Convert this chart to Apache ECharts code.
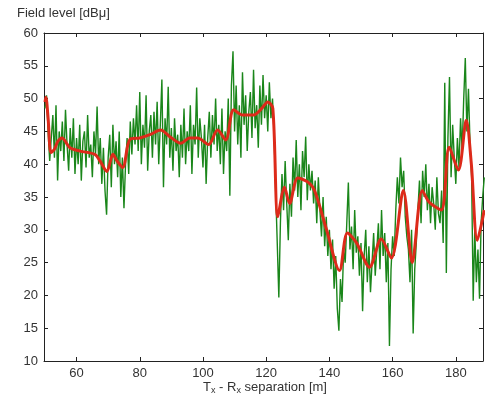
<!DOCTYPE html>
<html>
<head>
<meta charset="utf-8">
<script src="https://cdn.jsdelivr.net/npm/echarts@6/dist/echarts.min.js"></script>
<style>html,body{margin:0;padding:0;background:#fff}#c{width:486px;height:396px}</style>
</head>
<body>
<div id="c"></div>
<script>
// Measured field level (green), 0.5 m steps starting at 50 m
const measStart = 50;
const measStep = 0.5;
const measured = [
  48.5,50.5,45,40.5,44,47.5,41,49,37.5,45,
  42,46.5,40.5,48.3,43,39,45.5,41,47,38.5,
  44,40,46,37.5,43.5,45,39.5,47.5,41,43,
  38,45,41.5,48.8,40,44,37,42.5,36,32.3,
  41,44.5,36.5,46,40,43.5,38,45,35,41,
  33.3,40,44,38.5,46.5,41.5,47,43,49,42,
  51,40,46,42.5,50.5,39,45,47.5,41,48,
  43,49.5,40,46,52.9,36.5,47,43,51.8,41,
  45.5,39,47,42,44.5,38,46,41,48.5,40,
  45,42,49,38.5,46,43,51.7,41,47,44,
  39.5,46,37,44,48,41,47.5,43,50,42,
  46,40,48.5,38.5,45,42,50,35.2,52,57.2,
  45,52,43,49,41,54,46,50.5,42,48,
  51,44,54.4,45.5,49,42.5,52,46,53.6,47,
  50.5,45,52.5,47,50,44.5,36,28,19.7,31,
  38.5,33,40.5,34,28.4,37,32,41,36,43.7,
  35,40,33,42,38,44.2,34.5,40,36,39,
  34,37.5,31,38,33,29,35,27.5,32,26,
  30,24,28.5,21,26,18,14.6,22.5,19,27,
  25,31,37.2,27,30.5,24,33,26.5,29,23,
  28,17.6,26,30,22,27.5,20.5,25,29.5,23,
  27,31,24,33,26,29.5,22,28,12.3,24,
  29,26,33,38,34,41,36.5,39,32,29,
  27,22,30,14.2,24,28,33,37.5,31,39,
  35,40,33,37,31,36.5,34,30,38,32.5,
  31,36,28,52.4,23.4,44,53.3,38,46,41,
  37,44,39.5,47,42,50,56.2,45,51.5,43,
  38,19.2,30,22,27,19.5,31,35,38
];
// Smoothed field level (red)
const smoothX = [50.0,50.3,51.0,51.9,52.9,54.1,55.4,57.9,61.1,65.8,67.4,69.6,71.5,72.8,74.6,76.9,80.0,83.2,86.6,89.5,93.0,95.8,98.3,101.8,104.6,107.2,109.7,112.5,116.0,118.6,120.5,122.1,123.7,125.8,127.4,130.0,133.1,135.3,139.1,143.2,145.7,148.6,152.7,156.4,159.6,163.4,166.2,169.4,171.6,175.4,177.9,180.8,183.3,184.9,186.8,189.0];
const smoothY = [49.5,50.2,47,41.8,42.2,43.5,44,42.5,42,41.5,40.5,38.9,41.5,40.5,39.5,43.8,44,44.5,45.2,44.2,43.2,44,44,43,45.2,43.7,48.3,47.5,47.5,48.5,49.5,48.5,32,36.5,34,37.9,37.3,36,30,23.8,29.5,28,24.3,28.6,25.7,36,25,36,34.2,33,42.6,39.1,46.7,40.1,28.4,33];
const xTicks = [60,80,100,120,140,160,180];
const yMin = 10, yMax = 60, yStep = 5;

const measData = measured.map((v,i)=>[measStart+i*measStep, v]);
const smoothData = smoothX.map((x,i)=>[x, smoothY[i]]);

const chart = echarts.init(document.getElementById('c'), null, {renderer:'canvas'});
const font = 'Liberation Sans, Arial, sans-serif';
const axisLine = {show:true, lineStyle:{color:'#222', width:1}};
chart.setOption({
  animation:false,
  backgroundColor:'#fff',
  grid:{left:44, top:33, right:3, bottom:35, containLabel:false},
  xAxis:[{
    type:'value', min:49.7, max:188.6, position:'bottom',
    axisLine:axisLine,
    axisTick:{show:true, inside:true, length:4, customValues:xTicks, lineStyle:{color:'#222'}},
    axisLabel:{customValues:xTicks, color:'#333', fontSize:13, fontFamily:font, margin:6},
    splitLine:{show:false}
  },{
    type:'value', min:49.7, max:188.6, position:'top',
    axisLine:axisLine,
    axisTick:{show:true, inside:true, length:4, customValues:xTicks, lineStyle:{color:'#222'}},
    axisLabel:{show:false, customValues:xTicks},
    splitLine:{show:false}
  }],
  yAxis:[{
    type:'value', min:yMin, max:yMax, interval:yStep, position:'left',
    axisLine:axisLine,
    axisTick:{show:true, inside:true, length:4, lineStyle:{color:'#222'}},
    axisLabel:{color:'#333', fontSize:13, fontFamily:font, margin:6},
    splitLine:{show:false}
  },{
    type:'value', min:yMin, max:yMax, interval:yStep, position:'right',
    axisLine:axisLine,
    axisTick:{show:true, inside:true, length:4, lineStyle:{color:'#222'}},
    axisLabel:{show:false},
    splitLine:{show:false}
  }],
  series:[{
    type:'line', data:measData, showSymbol:false, symbol:'none',
    lineStyle:{color:'#1a861a', width:1.4}, z:2
  },{
    type:'line', data:smoothData, showSymbol:false, symbol:'none', smooth:0.3,
    lineStyle:{color:'#dd2a1a', width:3}, z:3
  }],
  graphic:[{
    type:'text', left:17, top:7,
    style:{text:'Field level [dBμ]', fill:'#333', fontSize:13, fontFamily:font}
  },{
    type:'text', x:265, y:380,
    style:{
      text:'{n|T}{s|x}{n| - R}{s|x}{n| separation [m]}',
      align:'center', verticalAlign:'top',
      rich:{
        n:{fontSize:13, fill:'#333', fontFamily:font},
        s:{fontSize:9, fill:'#333', fontFamily:font, padding:[6,0,0,0]}
      }
    }
  }]
});
</script>
</body>
</html>
